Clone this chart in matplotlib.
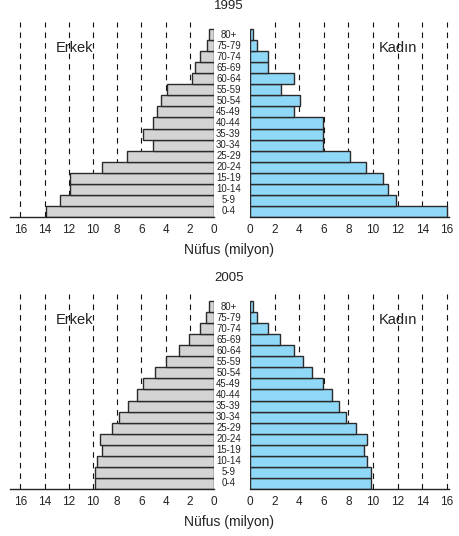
import matplotlib
matplotlib.use("Agg")
import matplotlib.pyplot as plt
import matplotlib.transforms as mtransforms

plt.rcParams['font.family'] = ['Liberation Sans', 'DejaVu Sans']

ages = ['0-4', '5-9', '10-14', '15-19', '20-24', '25-29', '30-34', '35-39',
        '40-44', '45-49', '50-54', '55-59', '60-64', '65-69', '70-74', '75-79', '80+']

male_1995 = [13.9, 12.7, 11.9, 11.9, 9.25, 7.2, 5.05, 5.9, 5.05, 4.75, 4.35, 3.85,
             1.8, 1.6, 1.15, 0.6, 0.4]
female_1995 = [16.0, 11.85, 11.25, 10.85, 9.45, 8.15, 5.9, 5.9, 5.9, 3.6, 4.05, 2.55,
               3.6, 1.45, 1.45, 0.55, 0.27]
male_2005 = [9.85, 9.85, 9.65, 9.25, 9.45, 8.4, 7.85, 7.1, 6.4, 5.85, 4.85, 3.95,
             2.9, 2.1, 1.15, 0.65, 0.4]
female_2005 = [9.85, 9.85, 9.5, 9.3, 9.5, 8.6, 7.8, 7.25, 6.65, 5.9, 5.05, 4.3,
               3.6, 2.4, 1.45, 0.55, 0.27]

years = ['1995', '2005']
male_label = 'Erkek'
female_label = 'Kadın'
xlabel = 'Nüfus (milyon)'
ticks = [0, 2, 4, 6, 8, 10, 12, 14, 16]

W, H = 459, 536
fig = plt.figure(figsize=(W / 100, H / 100), dpi=100)

male_color = '#d4d4d4'
female_color = '#8fd8f8'
edge = '#2a2a2a'

panels = [
    (years[0], male_1995, female_1995, 22, 217),
    (years[1], male_2005, female_2005, 294, 489),
]

n = len(ages)
ytop = n - 0.5 + 7 / 11.06

for year, males, females, top_px, bot_px in panels:
    b = (H - bot_px) / H
    h = (bot_px - top_px) / H
    axL = fig.add_axes([10 / W, b, 204 / W, h])
    axR = fig.add_axes([250 / W, b, 199 / W, h])
    y = list(range(n))
    for ax, vals, col, xmax in [(axL, males, male_color, 204 / 12.1),
                                (axR, females, female_color, 199 / 12.3)]:
        ax.vlines(ticks[1:], -0.5, ytop, colors='#111111', linestyles=(0, (5, 4.5)),
                  linewidth=0.8, zorder=1)
        ax.barh(y, vals, height=1.0, color=col, edgecolor=edge, linewidth=1.0, zorder=2)
        ax.set_ylim(-0.5, ytop)
        ax.set_yticks([])
        for s in ['top', 'left', 'right']:
            ax.spines[s].set_visible(False)
        ax.spines['bottom'].set_linewidth(1.0)
        ax.spines['bottom'].set_color('#222222')
        ax.set_xticks(ticks)
        ax.set_xticklabels([str(t) for t in ticks])
        ax.tick_params(axis='x', length=0, pad=5, labelsize=8.5, colors='#222222')
        if ax is axL:
            ax.set_xlim(xmax, 0)
        else:
            ax.set_xlim(0, xmax)
    axL.text(11.5, n - 0.5 - 1.72, male_label, ha='center', va='center', fontsize=10.5,
             color='#222222', zorder=3)
    axR.text(12.0, n - 0.5 - 1.72, female_label, ha='center', va='center', fontsize=10.5,
             color='#222222', zorder=3)
    tr = mtransforms.blended_transform_factory(fig.transFigure, axR.transData)
    for i, a in enumerate(ages):
        axR.text(228.5 / W, i, a, transform=tr, ha='center', va='center',
                 fontsize=6.9, color='#222222', clip_on=False)
    fig.text(229 / W, 1 - (top_px - 16) / H, year, ha='center', va='center',
             fontsize=9.5, color='#222222')
    fig.text(229 / W, 1 - (bot_px + 33) / H, xlabel, ha='center', va='center',
             fontsize=10, color='#222222')

fig.savefig('out.png', dpi=100)
